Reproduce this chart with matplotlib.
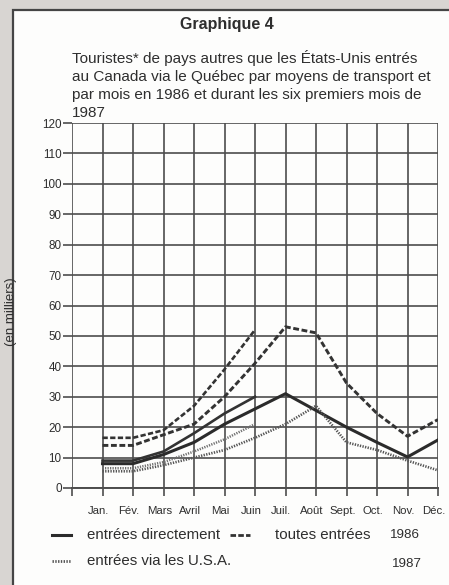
import matplotlib
matplotlib.use("Agg")
import matplotlib.pyplot as plt
import matplotlib.patches as mpatches
import matplotlib.lines as mlines
import matplotlib.transforms as mtransforms

plt.rcParams['font.family'] = ['Liberation Sans', 'DejaVu Sans']

# Données (en milliers de touristes)
mois = ['Jan.', 'Fév.', 'Mars', 'Avril', 'Mai', 'Juin',
        'Juil.', 'Août', 'Sept.', 'Oct.', 'Nov.', 'Déc.']
toutes_1986 = [14, 14, 17.5, 21, 30, 41, 53, 51, 34.5, 24.5, 17, 22.5]
directement_1986 = [8, 8, 11, 15, 21, 26, 31, 25.5, 20, 15, 10.2, 15.8]
via_usa_1986 = [5.5, 5.5, 7.5, 10, 12.5, 16.5, 21, 27, 15, 12.5, 9, 5.8]
toutes_1987 = [16.5, 16.5, 19, 27, 39, 52]
directement_1987 = [9, 9, 12, 18, 24.5, 30]
via_usa_1987 = [6.5, 6.5, 8.5, 12, 16, 21]

W, H = 449, 585
INK = '#333333'
GRID = '#4d4d4d'
TXT = '#2e2e2e'

fig = plt.figure(figsize=(W / 100, H / 100), dpi=100)
fig.patch.set_facecolor('#d8d5d2')

# cadre blanc
frame = mpatches.Rectangle((13 / W, -0.05), 1.2, 1 - 10 / H + 0.05,
                           transform=fig.transFigure, facecolor='#fdfdfc',
                           edgecolor='#454545', linewidth=1.6, zorder=0)
fig.add_artist(frame)

fig.text(227 / W, 1 - 25 / H, "Graphique 4", ha='center', va='center',
         fontsize=11.5, fontweight='bold', color=TXT)
sous_titre = ("Touristes* de pays autres que les États-Unis entrés\n"
              "au Canada via le Québec par moyens de transport et\n"
              "par mois en 1986 et durant les six premiers mois de\n"
              "1987")
fig.text(72 / W, 1 - 50 / H, sous_titre, ha='left', va='top',
         fontsize=11.0, color=TXT, linespacing=1.36)

# axes
x0, x1 = 72, 438
y0, y1 = 488, 123
ax = fig.add_axes([x0 / W, (H - y0) / H, (x1 - x0) / W, (y0 - y1) / H])
ax.set_facecolor('none')
ax.set_xlim(0, 12)
ax.set_ylim(0, 120)
ax.set_xticks(range(13))
ax.set_xticklabels([''] + mois)
ax.set_yticks(range(0, 121, 10))
ax.grid(True, color=GRID, linewidth=1.2)
ax.set_axisbelow(True)
for s in ax.spines.values():
    s.set_visible(False)
ax.spines['bottom'].set_visible(True)
ax.spines['bottom'].set_color(GRID)
ax.spines['bottom'].set_linewidth(1.4)
ax.tick_params(axis='y', length=6.5, width=1.2, color=GRID, pad=1,
               labelsize=8.4, labelcolor=TXT)
ax.tick_params(axis='x', direction='out', length=6, width=1.2, color=GRID,
               pad=7, labelsize=8.2, labelcolor=TXT)
decal = mtransforms.ScaledTranslation(-3 / 72, 0, fig.dpi_scale_trans)
for lab in ax.get_xticklabels():
    lab.set_transform(lab.get_transform() + decal)

m86 = list(range(1, 13))
m87 = list(range(1, 7))
dash = (0, (2.0, 0.9))
dot = (0, (0.5, 0.5))
ax.plot(m86, toutes_1986, color=INK, lw=2.1, linestyle=dash, zorder=3)
ax.plot(m86, directement_1986, color='#2b2b2b', lw=2.2, zorder=3)
ax.plot(m86, via_usa_1986, color='#555555', lw=1.9, linestyle=dot, zorder=3)
ax.plot(m87, toutes_1987, color=INK, lw=1.9, linestyle=dash, zorder=3)
ax.plot(m87, directement_1987, color='#333333', lw=1.9, zorder=3)
ax.plot(m87, via_usa_1987, color='#707070', lw=1.8, linestyle=dot, zorder=3)

fig.text(11 / W, 1 - 312 / H, "(en milliers)", rotation=90, ha='center',
         va='center', fontsize=9.5, color=TXT)

# légende
def leg_line(xa, xb, y, **kw):
    fig.add_artist(mlines.Line2D([xa / W, xb / W], [1 - y / H, 1 - y / H],
                                 transform=fig.transFigure, **kw))

ly1, ly2 = 535, 561
leg_line(52, 71, ly1, color='#2b2b2b', lw=2.2)
fig.text(87 / W, 1 - ly1 / H, "entrées directement", va='center',
         fontsize=10.8, color=TXT)
leg_line(230, 250, ly1, color=INK, lw=2.0, linestyle=(0, (2, 0.8)))
fig.text(275 / W, 1 - ly1 / H, "toutes entrées", va='center',
         fontsize=10.8, color=TXT)
fig.text(390 / W, 1 - ly1 / H, "1986", va='center', fontsize=9.6,
         color=TXT)
leg_line(52, 71, ly2, color='#555555', lw=2.0, linestyle=(0, (0.5, 0.5)))
fig.text(87 / W, 1 - ly2 / H, "entrées via les U.S.A.", va='center',
         fontsize=10.8, color=TXT)
fig.text(392 / W, 1 - (ly2 + 3) / H, "1987", va='center', fontsize=9.6,
         color=TXT)

fig.savefig("out.png", dpi=100, facecolor=fig.get_facecolor())
